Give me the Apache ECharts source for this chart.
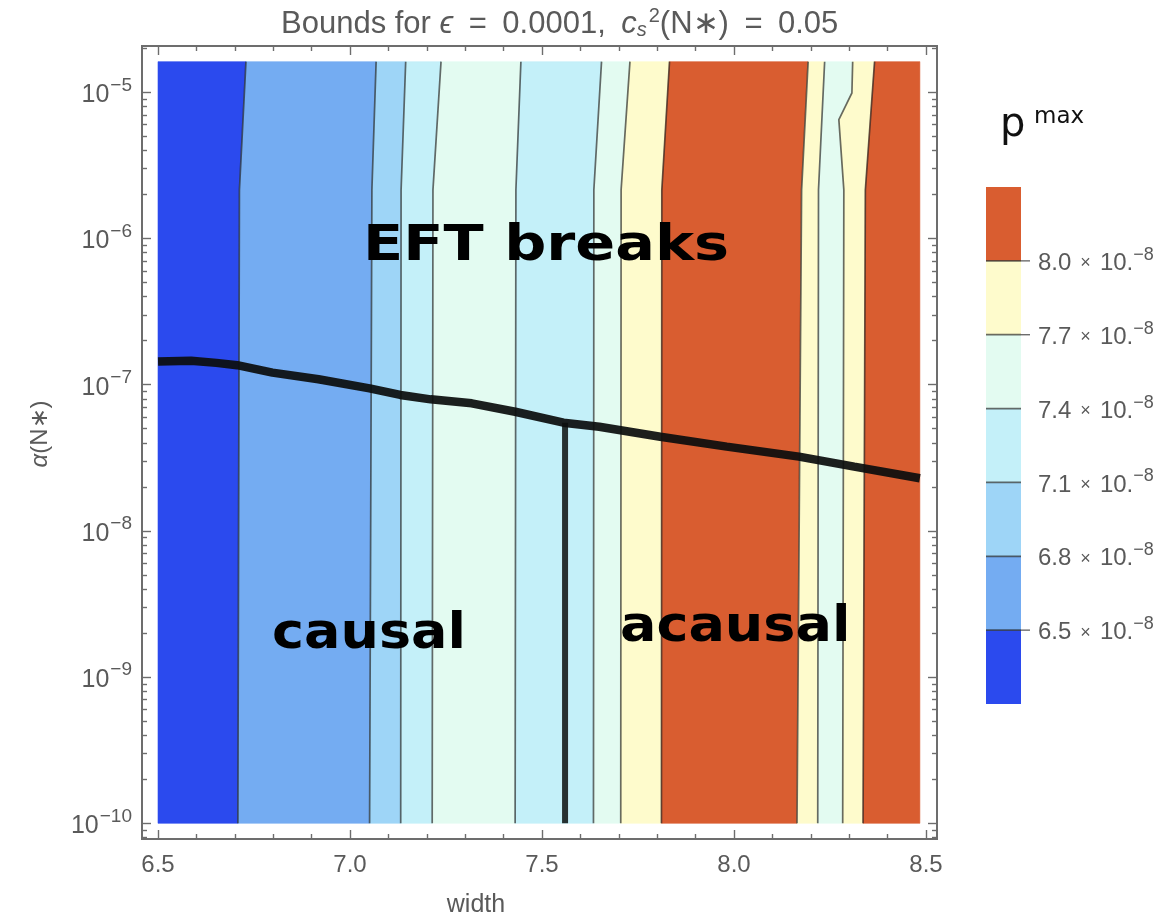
<!DOCTYPE html>
<html>
<head>
<meta charset="utf-8">
<script src="https://cdn.jsdelivr.net/npm/echarts@6/dist/echarts.min.js"></script>
<style>
  html, body { margin: 0; padding: 0; background: #ffffff; }
  #chart { width: 1164px; height: 924px; }
</style>
</head>
<body>
<div id="chart"></div>
<script>
// p_max contour levels (units of 1e-8) and the fill colour of each band
const levelEdges = [6.2, 6.5, 6.8, 7.1, 7.4, 7.7, 8.0, 8.3];
const levelColors = ['#2b4aee', '#74acf2', '#9ed5f7', '#c4f0f9', '#e3fbf1', '#fefbcc', '#d95d30'];
const levelTicks = [6.5, 6.8, 7.1, 7.4, 7.7, 8.0];
const levelTickMarks = [6.5, 7.7, 8.0];

// sampled domain of the contour plot
const widthRange = [6.5, 8.484];
const alphaRange = [1e-10, 1.62e-5];

// contour lines, left to right, each traced from top to bottom as [width, alpha]
const contourLines = [
  [[6.729, 1.62e-5], [6.712, 2.15e-6], [6.708, 1e-10]],
  [[7.068, 1.62e-5], [7.057, 2.15e-6], [7.051, 1e-10]],
  [[7.145, 1.62e-5], [7.133, 2.15e-6], [7.132, 1e-10]],
  [[7.237, 1.62e-5], [7.216, 2.15e-6], [7.214, 1e-10]],
  [[7.445, 1.62e-5], [7.432, 2.15e-6], [7.430, 1e-10]],
  [[7.655, 1.62e-5], [7.635, 2.15e-6], [7.634, 1e-10]],
  [[7.729, 1.62e-5], [7.706, 2.15e-6], [7.705, 1e-10]],
  [[7.832, 1.62e-5], [7.812, 2.15e-6], [7.811, 1e-10]],
  [[8.193, 1.62e-5], [8.176, 2.15e-6], [8.164, 1e-10]],
  [[8.236, 1.62e-5], [8.220, 2.15e-6], [8.218, 1e-10]],
  [[8.309, 1.62e-5], [8.307, 9.9e-6], [8.273, 6.5e-6], [8.286, 2.15e-6], [8.283, 1e-10]],
  [[8.366, 1.62e-5], [8.342, 2.15e-6], [8.336, 1e-10]]
];
// level index of each band between neighbouring contours (left edge .. right edge)
const bandLevels = [0, 1, 2, 3, 4, 3, 4, 5, 6, 5, 4, 5, 6];

// EFT breakdown curve
const eftWidth = [6.5, 6.586, 6.652, 6.706, 6.798, 6.918, 7.051, 7.131, 7.210, 7.317,
                  7.430, 7.556, 7.649, 7.808, 7.981, 8.169, 8.313, 8.484];
const eftAlpha = [1.44e-7, 1.46e-7, 1.41e-7, 1.36e-7, 1.21e-7, 1.09e-7, 9.44e-8, 8.51e-8, 7.94e-8, 7.46e-8,
                  6.53e-8, 5.50e-8, 5.16e-8, 4.41e-8, 3.77e-8, 3.22e-8, 2.75e-8, 2.29e-8];

// causal / acausal boundary below the EFT curve
const causalWidth = 7.56;
const causalAlpha = [5.5e-8, 1e-10];

// region annotations
const noteText = ['EFT breaks', 'causal', 'acausal'];
const noteWidth = [7.034, 6.797, 7.703];
const noteAlpha = [8.72e-7, 1.93e-9, 2.17e-9];
const noteStretch = [1.09, 1.0, 1.0];

// axis ticks
const xMajorTicks = [6.5, 7.0, 7.5, 8.0, 8.5];
const xMinorTicks = [6.6, 6.7, 6.8, 6.9, 7.1, 7.2, 7.3, 7.4, 7.6, 7.7, 7.8, 7.9, 8.1, 8.2, 8.3, 8.4];
const yDecades = [-10, -9, -8, -7, -6, -5];
const yMinorMultipliers = [2, 3, 4, 5, 6, 7, 8, 9];

// frame extent (width, log10 alpha)
const xFrame = [6.4583, 8.5286];
const yFrame = [-10.1074, -4.6833];

const lg = Math.log10;
const frameColor = '#6d6d6d';
const textColor = '#5a5a5a';
const sansFont = '"Liberation Sans", Arial, sans-serif';

const yMinorTicks = [];
for (let n = -11; n <= -5; n++) {
  yMinorMultipliers.forEach(m => {
    const v = lg(m) + n;
    if (v > yFrame[0] && v < yFrame[1]) yMinorTicks.push(v);
  });
}

function xAxisDef(position, ticks, len, withLabels) {
  return {
    type: 'value', gridIndex: 0, position: position,
    min: xFrame[0], max: xFrame[1],
    axisLine: { show: false },
    splitLine: { show: false },
    axisTick: { show: true, inside: true, length: len, customValues: ticks,
                lineStyle: { color: frameColor, width: 1.4 } },
    axisLabel: withLabels ? {
      show: true, customValues: ticks, margin: 14,
      formatter: v => v.toFixed(1),
      fontSize: 24, color: textColor, fontFamily: sansFont
    } : { show: false }
  };
}

function yAxisDef(position, ticks, len, withLabels) {
  return {
    type: 'value', gridIndex: 0, position: position,
    min: yFrame[0], max: yFrame[1],
    axisLine: { show: false },
    splitLine: { show: false },
    axisTick: { show: true, inside: true, length: len, customValues: ticks,
                lineStyle: { color: frameColor, width: 1.4 } },
    axisLabel: withLabels ? {
      show: true, customValues: ticks, margin: 10,
      formatter: v => '{b|10}{s|\u2212' + Math.abs(Math.round(v)) + '}',
      rich: {
        b: { fontSize: 25, color: textColor, fontFamily: sansFont, padding: [6, 0, 0, 0] },
        s: { fontSize: 19, color: textColor, fontFamily: sansFont, padding: [0, 0, 14, 1] }
      }
    } : { show: false }
  };
}

function toPoint(api, p) {
  return api.coord([p[0], lg(p[1])]);
}

const chart = echarts.init(document.getElementById('chart'), null, { renderer: 'canvas' });

const titleRich = (extra) => Object.assign({ fontSize: 31, fontWeight: 'normal', color: textColor, fontFamily: sansFont }, extra);

const option = {
  animation: false,
  backgroundColor: '#ffffff',
  title: {
    text: '{t|Bounds for }{i|\u03f5}{t|\u2002=\u20020.0001,\u2002}{i|c}{sb|s}{sp|2}{t|(N\u2217)\u2002=\u20020.05}',
    left: 276, top: 1,
    textStyle: {
      fontWeight: 'normal',
      rich: {
        t: titleRich({}),
        i: titleRich({ fontStyle: 'italic' }),
        sb: titleRich({ fontSize: 20, fontStyle: 'italic', padding: [12, 0, 0, 0] }),
        sp: titleRich({ fontSize: 20, padding: [0, 0, 16, 2] })
      }
    }
  },
  grid: [
    { left: 142, top: 46, width: 795, height: 793, show: true,
      borderColor: frameColor, borderWidth: 2, backgroundColor: 'transparent' },
    { left: 986, top: 187, width: 35, height: 517, show: false }
  ],
  xAxis: [
    xAxisDef('bottom', xMajorTicks, 9, true),
    xAxisDef('bottom', xMinorTicks, 5, false),
    xAxisDef('top', xMajorTicks, 9, false),
    xAxisDef('top', xMinorTicks, 5, false),
    { type: 'value', gridIndex: 1, min: 0, max: 1, show: false }
  ],
  yAxis: [
    yAxisDef('left', yDecades, 9, true),
    yAxisDef('left', yMinorTicks, 5, false),
    yAxisDef('right', yDecades, 9, false),
    yAxisDef('right', yMinorTicks, 5, false),
    {
      type: 'value', gridIndex: 1, position: 'right',
      min: levelEdges[0], max: levelEdges[levelEdges.length - 1],
      axisLine: { show: false }, splitLine: { show: false },
      axisTick: { show: false },
      axisLabel: {
        show: true, customValues: levelTicks, margin: 17,
        formatter: v => '{m|' + v.toFixed(1) + '}{x|\u2002\u00d7\u2002}{m|10.}{s|\u22128}',
        rich: {
          m: { fontSize: 24, color: textColor, fontFamily: sansFont, padding: [5, 0, 0, 0] },
          x: { fontSize: 18, color: textColor, fontFamily: sansFont, padding: [5, 0, 0, 0] },
          s: { fontSize: 18, color: textColor, fontFamily: sansFont, padding: [0, 0, 12, 0] }
        }
      }
    }
  ],
  series: [
    {
      // filled contour bands
      type: 'custom', xAxisIndex: 0, yAxisIndex: 0, clip: false, z: 1,
      data: bandLevels.map((lv, i) => [i, lv]),
      renderItem: (params, api) => {
        const i = api.value(0);
        const lv = api.value(1);
        const top = alphaRange[1], bottom = alphaRange[0];
        const left = i === 0 ? [[widthRange[0], top], [widthRange[0], bottom]] : contourLines[i - 1];
        const right = i === contourLines.length ? [[widthRange[1], top], [widthRange[1], bottom]] : contourLines[i];
        const pts = left.concat(right.slice().reverse()).map(p => toPoint(api, p));
        return { type: 'polygon', shape: { points: pts },
                 style: { fill: levelColors[lv], stroke: levelColors[lv], lineWidth: 0.6 } };
      }
    },
    {
      // contour lines
      type: 'custom', xAxisIndex: 0, yAxisIndex: 0, clip: false, z: 2,
      data: contourLines.map((c, i) => [i]),
      renderItem: (params, api) => {
        const line = contourLines[api.value(0)];
        return { type: 'polyline', shape: { points: line.map(p => toPoint(api, p)) },
                 style: { stroke: 'rgba(30,30,30,0.66)', lineWidth: 1.7, fill: null } };
      }
    },
    {
      // causal / acausal boundary
      type: 'line', xAxisIndex: 0, yAxisIndex: 0, z: 3,
      data: causalAlpha.map(a => [causalWidth, lg(a)]),
      symbol: 'none', silent: true,
      lineStyle: { color: '#263131', width: 6, cap: 'butt' }
    },
    {
      // EFT breakdown curve
      type: 'line', xAxisIndex: 0, yAxisIndex: 0, z: 4,
      data: eftWidth.map((w, i) => [w, lg(eftAlpha[i])]),
      symbol: 'none', silent: true,
      lineStyle: { color: 'rgba(12,14,14,0.93)', width: 8.5, cap: 'butt', join: 'bevel' }
    },
    {
      // region annotations
      type: 'custom', xAxisIndex: 0, yAxisIndex: 0, clip: false, z: 5,
      data: noteText.map((t, i) => [noteWidth[i], lg(noteAlpha[i]), i]),
      renderItem: (params, api) => {
        const i = api.value(2);
        const p = api.coord([api.value(0), api.value(1)]);
        return {
          type: 'text', x: p[0], y: p[1], scaleX: noteStretch[i], scaleY: 0.93,
          style: {
            text: noteText[i], fill: '#000000',
            font: 'bold 54px "DejaVu Sans", sans-serif',
            textAlign: 'left', textVerticalAlign: 'middle', align: 'left', verticalAlign: 'middle'
          }
        };
      }
    },
    {
      // colour bar bands
      type: 'custom', xAxisIndex: 4, yAxisIndex: 4, clip: false, z: 1,
      data: levelColors.map((c, i) => [i]),
      renderItem: (params, api) => {
        const i = api.value(0);
        const a = api.coord([0, levelEdges[i + 1]]);
        const b = api.coord([1, levelEdges[i]]);
        return { type: 'rect', shape: { x: a[0], y: a[1], width: b[0] - a[0], height: b[1] - a[1] },
                 style: { fill: levelColors[i] } };
      }
    },
    {
      // colour bar level separators, with outward ticks on the marked levels
      type: 'custom', xAxisIndex: 4, yAxisIndex: 4, clip: false, z: 2,
      data: levelTicks.map(v => [v]),
      renderItem: (params, api) => {
        const v = api.value(0);
        const a = api.coord([0, v]);
        const b = api.coord([1, v]);
        const children = [{ type: 'line', shape: { x1: a[0], y1: a[1], x2: b[0], y2: b[1] },
                            style: { stroke: 'rgba(30,30,30,0.66)', lineWidth: 1.7 } }];
        if (levelTickMarks.indexOf(v) >= 0) {
          children.push({ type: 'line', shape: { x1: b[0], y1: b[1], x2: b[0] + 9, y2: b[1] },
                          style: { stroke: frameColor, lineWidth: 1.4 } });
        }
        return { type: 'group', children: children };
      }
    }
  ],
  graphic: [
    { type: 'text', x: 476, y: 905,
      style: { text: 'width', font: '25px "Liberation Sans", Arial, sans-serif', fill: textColor,
               align: 'center', verticalAlign: 'middle' } },
    { type: 'text', x: 40, y: 434, rotation: Math.PI / 2,
      style: { text: '{i|\u03b1}{t|(N\u2217)}', align: 'center', verticalAlign: 'middle',
               rich: {
                 i: { fontSize: 24, fontStyle: 'italic', fill: textColor, fontFamily: sansFont },
                 t: { fontSize: 24, fill: textColor, fontFamily: sansFont }
               } } },
    { type: 'text', x: 1000, y: 106,
      style: { text: 'p', font: '40px "DejaVu Sans", sans-serif', fill: '#111111' } },
    { type: 'text', x: 1034, y: 106,
      style: { text: 'max', font: '23px "DejaVu Sans", sans-serif', fill: '#111111' } }
  ]
};

chart.setOption(option);
</script>
</body>
</html>
